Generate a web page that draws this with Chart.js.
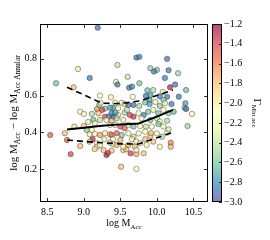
<!DOCTYPE html>
<html><head><meta charset="utf-8">
<script src="https://cdn.jsdelivr.net/npm/chart.js@4.4.0/dist/chart.umd.min.js"></script>
<style>html,body{margin:0;padding:0;background:#fff;}canvas{display:block;}</style>
</head><body>
<canvas id="c" width="270" height="240"></canvas>
<script>
// ---- scatter points: log M_Acc, difference, Gamma (colour) ----
const xs = [
  9.19, 8.92, 9.46, 9.08, 8.62, 8.86, 9.44, 9.46, 9.60, 9.62,
  9.66, 9.22, 9.37, 9.67, 9.72, 9.76, 10.14, 9.91, 10.00, 9.96,
  10.16, 10.29, 10.11, 9.76, 10.25, 10.18, 9.87, 9.95, 10.08, 10.40,
  9.85, 9.91, 10.04, 10.14, 10.30, 9.52, 9.56, 9.68, 9.84, 9.90,
  9.98, 10.09, 10.39, 10.38, 10.40, 10.48, 9.40, 9.21, 9.18, 9.29,
  9.36, 8.95, 9.00, 9.11, 9.13, 9.25, 9.23, 9.06, 8.54, 8.74,
  8.77, 8.82, 8.95, 8.87, 9.04, 9.08, 9.15, 9.22, 9.29, 9.36,
  9.12, 9.08, 9.18, 9.28, 9.36, 9.40, 9.27, 9.38, 9.31, 9.33,
  9.45, 9.40, 9.29, 9.34, 9.45, 9.22, 9.51, 9.18, 9.22, 9.15,
  10.42, 10.19, 10.19, 9.84, 9.91, 9.92, 10.14, 9.72, 9.64, 9.72,
  9.82, 9.54, 9.58, 9.43, 9.61, 9.76, 9.90, 10.04, 10.11, 10.20,
  9.38, 9.47, 9.56, 9.63, 9.68, 9.75, 9.82, 9.88, 9.95, 10.02,
  10.09, 10.16, 10.23, 9.45, 9.54, 9.79, 9.91, 10.00, 10.04, 10.14,
  9.36, 9.50, 9.56, 9.61, 9.68, 9.77, 9.85, 9.93, 10.02, 10.09,
  10.16, 9.38, 9.52, 9.61, 9.68, 9.75, 9.84, 10.00, 10.07, 9.40,
  9.50, 9.66, 9.72, 9.45, 9.54, 9.61, 9.70, 9.77, 9.86, 9.95,
  10.04, 9.72, 9.20, 9.43, 9.31, 9.38, 9.43, 9.11, 9.59, 9.47,
  9.15, 9.00
];
const ys = [
  0.970, 0.745, 0.767, 0.696, 0.667, 0.645, 0.674, 0.660, 0.702, 0.643,
  0.649, 0.600, 0.591, 0.593, 0.807, 0.811, 0.800, 0.749, 0.740, 0.731,
  0.738, 0.722, 0.696, 0.667, 0.660, 0.645, 0.629, 0.630, 0.620, 0.630,
  0.598, 0.602, 0.596, 0.593, 0.594, 0.561, 0.554, 0.549, 0.563, 0.576,
  0.565, 0.576, 0.558, 0.533, 0.527, 0.500, 0.533, 0.549, 0.526, 0.529,
  0.534, 0.512, 0.500, 0.500, 0.467, 0.522, 0.560, 0.456, 0.385, 0.395,
  0.358, 0.281, 0.325, 0.431, 0.413, 0.389, 0.391, 0.385, 0.395, 0.389,
  0.362, 0.349, 0.340, 0.362, 0.343, 0.336, 0.303, 0.300, 0.276, 0.287,
  0.395, 0.485, 0.485, 0.485, 0.490, 0.467, 0.212, 0.321, 0.330, 0.309,
  0.434, 0.343, 0.321, 0.362, 0.380, 0.395, 0.398, 0.200, 0.285, 0.281,
  0.285, 0.303, 0.307, 0.561, 0.549, 0.543, 0.554, 0.543, 0.558, 0.554,
  0.504, 0.494, 0.507, 0.494, 0.485, 0.504, 0.494, 0.512, 0.522, 0.504,
  0.522, 0.504, 0.512, 0.476, 0.467, 0.476, 0.467, 0.476, 0.458, 0.463,
  0.440, 0.431, 0.422, 0.440, 0.431, 0.434, 0.431, 0.431, 0.445, 0.431,
  0.416, 0.385, 0.385, 0.394, 0.376, 0.394, 0.403, 0.394, 0.376, 0.362,
  0.358, 0.362, 0.349, 0.331, 0.321, 0.331, 0.321, 0.340, 0.331, 0.349,
  0.321, 0.304, 0.504, 0.507, 0.467, 0.463, 0.440, 0.413, 0.522, 0.531,
  0.449, 0.434
];
const cs = [
  -2.90, -2.25, -2.40, -2.85, -2.60, -1.80, -2.20, -2.85, -2.40, -2.90,
  -2.85, -2.10, -2.20, -2.10, -2.90, -2.85, -2.90, -2.55, -2.60, -2.90,
  -2.85, -2.50, -2.85, -2.60, -2.90, -1.30, -2.65, -2.45, -2.30, -2.65,
  -2.90, -2.75, -2.85, -2.90, -2.90, -2.20, -2.30, -2.90, -2.60, -2.75,
  -2.20, -2.60, -2.75, -2.60, -2.90, -2.05, -2.75, -2.55, -1.65, -2.60,
  -2.75, -2.05, -2.05, -2.45, -2.60, -1.40, -2.20, -2.00, -1.50, -1.80,
  -1.50, -1.40, -1.80, -1.90, -2.55, -2.00, -2.05, -1.70, -2.00, -1.80,
  -1.30, -1.85, -2.10, -2.00, -2.40, -2.20, -1.80, -1.80, -1.30, -1.35,
  -1.50, -2.90, -1.40, -2.85, -2.70, -2.40, -1.80, -2.05, -2.05, -1.90,
  -2.50, -1.60, -1.75, -1.80, -1.85, -1.80, -2.10, -2.10, -1.35, -1.75,
  -1.80, -1.85, -1.75, -2.10, -2.90, -2.45, -2.75, -2.55, -2.25, -2.85,
  -2.85, -2.10, -2.45, -1.40, -1.35, -2.10, -2.85, -2.60, -2.25, -2.60,
  -2.10, -2.55, -2.65, -2.45, -2.05, -2.15, -2.60, -2.40, -2.05, -2.45,
  -2.05, -1.45, -1.50, -2.25, -2.60, -2.05, -2.40, -2.10, -2.60, -2.25,
  -2.35, -1.50, -2.60, -2.05, -2.40, -2.05, -2.10, -2.05, -2.40, -2.05,
  -1.75, -2.05, -2.20, -1.80, -2.05, -1.75, -1.80, -2.05, -2.20, -1.80,
  -2.05, -2.05, -1.80, -2.75, -2.05, -1.75, -2.05, -2.05, -2.40, -2.20,
  -2.05, -1.85
];
// ---- binned median and percentile curves ----
const binX    = [8.77, 9.00, 9.25, 9.50, 9.75, 10.00, 10.22];
const medianY = [0.415, 0.425, 0.435, 0.443, 0.448, 0.485, 0.522];
const upperY  = [0.645, 0.604, 0.558, 0.556, 0.570, 0.600, 0.630];
const lowerY  = [0.358, 0.350, 0.343, 0.337, 0.336, 0.370, 0.400];
// ---- ticks ----
const xTicks = [8.5, 9.0, 9.5, 10.0, 10.5];
const yTicks = [0.2, 0.4, 0.6, 0.8];
const cTicks = [-3.0, -2.8, -2.6, -2.4, -2.2, -2.0, -1.8, -1.6, -1.4, -1.2];
const C_MIN = -3.0, C_MAX = -1.2;

const SPECTRAL = ['#9e0142','#d53e4f','#f46d43','#fdae61','#fee08b','#ffffbf','#e6f598','#abdda4','#66c2a5','#3288bd','#5e4fa2'];
const ALPHA = 0.72;
function hexRGB(h){ return [parseInt(h.slice(1,3),16),parseInt(h.slice(3,5),16),parseInt(h.slice(5,7),16)]; }
function cmapFrac(t){ // t: 0 -> C_MAX (red), 1 -> C_MIN (purple)
  t = Math.max(0, Math.min(1, t)) * 10;
  const i = Math.min(9, Math.floor(t)), f = t - i;
  const a = hexRGB(SPECTRAL[i]), b = hexRGB(SPECTRAL[i+1]);
  return [0,1,2].map(k => Math.round(a[k] + (b[k]-a[k])*f));
}
function cmap(v){
  const rgb = cmapFrac((C_MAX - v)/(C_MAX - C_MIN));
  return 'rgba(' + rgb.join(',') + ',' + ALPHA + ')';
}
const fmt = v => Number(v).toFixed(1).replace('-', '\u2212');
const FONT = '"Liberation Serif", "Times New Roman", serif';

function drawRich(ctx, parts, cx, cy, rot){
  ctx.save();
  ctx.translate(cx, cy); ctx.rotate(rot);
  let w = 0;
  for (const p of parts){ ctx.font = p.size + 'px ' + FONT; w += ctx.measureText(p.t).width; }
  let x = -w/2;
  ctx.textBaseline = 'alphabetic'; ctx.textAlign = 'left'; ctx.fillStyle = '#000';
  for (const p of parts){ ctx.font = p.size + 'px ' + FONT; ctx.fillText(p.t, x, p.dy || 0); x += ctx.measureText(p.t).width; }
  ctx.restore();
}

const deco = {
  id: 'deco',
  afterDraw(chart){
    const ctx = chart.ctx, a = chart.chartArea;
    const sx = chart.scales.x, sy = chart.scales.y, sc = chart.scales.cb;
    ctx.save();
    // colorbar
    const cbL = a.right + 4, cbW = 10;
    const cTop = sc.getPixelForValue(C_MAX), cBot = sc.getPixelForValue(C_MIN);
    const g = ctx.createLinearGradient(0, cTop, 0, cBot);
    for (let i = 0; i <= 20; i++){ const t = i/20; g.addColorStop(t, 'rgba(' + cmapFrac(t).join(',') + ',' + ALPHA + ')'); }
    ctx.fillStyle = g;
    ctx.fillRect(cbL, cTop, cbW, cBot - cTop);
    ctx.strokeStyle = '#000'; ctx.lineWidth = 1;
    ctx.strokeRect(cbL + 0.5, cTop + 0.5, cbW - 1, cBot - cTop - 1);
    ctx.lineWidth = 0.8;
    for (const v of cTicks){
      const p = Math.round(sc.getPixelForValue(v)) + 0.5;
      ctx.beginPath(); ctx.moveTo(cbL + cbW, p); ctx.lineTo(cbL + cbW - 3, p); ctx.stroke();
    }
    // frame
    ctx.lineWidth = 1; ctx.strokeStyle = '#000';
    ctx.strokeRect(a.left + 0.5, a.top + 0.5, a.right - a.left - 1, a.bottom - a.top - 1);
    ctx.lineWidth = 0.8;
    for (const v of xTicks){
      const p = Math.round(sx.getPixelForValue(v)) + 0.5;
      ctx.beginPath(); ctx.moveTo(p, a.bottom); ctx.lineTo(p, a.bottom - 4);
      ctx.moveTo(p, a.top); ctx.lineTo(p, a.top + 4); ctx.stroke();
    }
    for (const v of yTicks){
      const p = Math.round(sy.getPixelForValue(v)) + 0.5;
      ctx.beginPath(); ctx.moveTo(a.left, p); ctx.lineTo(a.left + 4, p);
      ctx.moveTo(a.right, p); ctx.lineTo(a.right - 4, p); ctx.stroke();
    }
    // titles
    drawRich(ctx, [{t:'log M', size:10}, {t:'Acc', size:7, dy:2.5}], (a.left + a.right)/2, 226, 0);
    drawRich(ctx, [{t:'log M', size:11}, {t:'Acc', size:7.5, dy:2.5}, {t:' \u2212 log M', size:11}, {t:'Acc Annular', size:7.5, dy:2.5}],
             17, (a.top + a.bottom)/2, -Math.PI/2);
    drawRich(ctx, [{t:'\u0393', size:11}, {t:'Min acc', size:7, dy:2.5}], 254, (cTop + cBot)/2, Math.PI/2);
    ctx.restore();
  }
};

const tickFont = {family: FONT, size: 10};
const lineDs = (yArr, dash, w) => ({
  type: 'line', data: binX.map((x, i) => ({x, y: yArr[i]})),
  borderColor: '#000', borderWidth: w, borderDash: dash, pointRadius: 0, fill: false, tension: 0, order: 0
});

new Chart(document.getElementById('c'), {
  data: {
    datasets: [
      lineDs(medianY, [], 2),
      lineDs(upperY, [6, 4], 1.6),
      lineDs(lowerY, [6, 4], 1.6),
      {
        type: 'scatter', data: xs.map((x, i) => ({x, y: ys[i]})),
        backgroundColor: cs.map(cmap), borderColor: 'rgba(40,40,40,0.85)', borderWidth: 0.5,
        pointRadius: 2.7, order: 1
      }
    ]
  },
  options: {
    responsive: false, animation: false, devicePixelRatio: 1,
    layout: {padding: {top: 24, left: 0, right: 0, bottom: 0}},
    plugins: {legend: {display: false}, tooltip: {enabled: false}},
    scales: {
      x: {
        type: 'linear', position: 'bottom', min: 8.4, max: 10.7,
        grid: {display: false, drawTicks: false}, border: {display: false},
        ticks: {font: tickFont, color: '#000', padding: 4, maxRotation: 0, callback: v => fmt(v)},
        afterBuildTicks: s => { s.ticks = xTicks.map(v => ({value: v})); },
        afterFit: s => { s.height = 38; }
      },
      y: {
        type: 'linear', position: 'left', min: 0.02, max: 0.99,
        grid: {display: false, drawTicks: false}, border: {display: false},
        ticks: {font: tickFont, color: '#000', padding: 3, callback: v => fmt(v)},
        afterBuildTicks: s => { s.ticks = yTicks.map(v => ({value: v})); },
        afterFit: s => { s.width = 40; }
      },
      cb: {
        type: 'linear', position: 'right', min: C_MIN, max: C_MAX,
        grid: {display: false, drawTicks: false}, border: {display: false},
        ticks: {font: tickFont, color: '#000', padding: 16, callback: v => fmt(v)},
        afterBuildTicks: s => { s.ticks = cTicks.map(v => ({value: v})); },
        afterFit: s => { s.width = 62; }
      }
    }
  },
  plugins: [deco]
});
</script>
</body></html>
